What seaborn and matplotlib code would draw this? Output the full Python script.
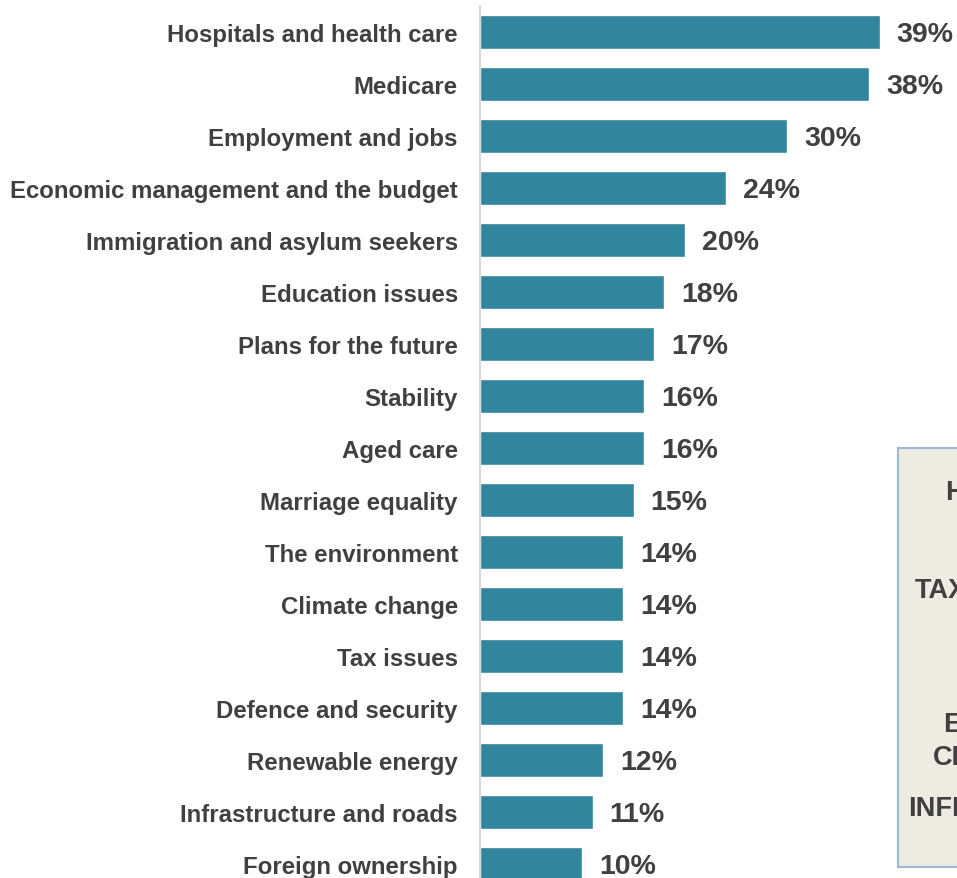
import matplotlib
matplotlib.use("Agg")
import matplotlib.pyplot as plt
from matplotlib.patches import Rectangle
import seaborn as sns
import pandas as pd

issues = [
    "Hospitals and health care", "Medicare", "Employment and jobs",
    "Economic management and the budget", "Immigration and asylum seekers",
    "Education issues", "Plans for the future", "Stability", "Aged care",
    "Marriage equality", "The environment", "Climate change", "Tax issues",
    "Defence and security", "Renewable energy", "Infrastructure and roads",
    "Foreign ownership",
]
shares = [39, 38, 30, 24, 20, 18, 17, 16, 16, 15, 14, 14, 14, 14, 12, 11, 10]

side_words = ["HEALTH", "TAXES", "ECONOMY", "CLIMATE", "INFRASTRUCTURE"]

df = pd.DataFrame({"issue": issues, "share": shares})

sns.set_theme(style="white")
plt.rcParams["font.family"] = ["Liberation Sans", "DejaVu Sans"]

TEXT = "#404040"
BAR = "#31859C"

W, H = 957, 879
fig = plt.figure(figsize=(W / 100, H / 100), dpi=100)
fig.patch.set_facecolor("white")

# axes placed in pixel terms: left spine at x=480, top at y=7, runs past the bottom edge
ax = fig.add_axes([480 / W, 1 - 891 / H, 461 / W, 884 / H])

sns.barplot(data=df, x="share", y="issue", orient="h", color=BAR,
            width=0.66, saturation=1, ax=ax)

ax.set_xlim(0, 45)
ax.set_ylim(len(issues) - 0.5, -0.5)
ax.set_xlabel("")
ax.set_ylabel("")
ax.set_xticks([])
ax.tick_params(axis="y", length=0, pad=16)
for lbl in ax.get_yticklabels():
    lbl.set_fontsize(17.25)
    lbl.set_fontweight("bold")
    lbl.set_color(TEXT)

for s in ["top", "right", "bottom"]:
    ax.spines[s].set_visible(False)
ax.spines["left"].set_color("#d9d9d9")
ax.spines["left"].set_linewidth(1.5)

# value labels, ~17px right of each bar end
for i, v in enumerate(df["share"]):
    ax.annotate(f"{v}%", xy=(v, i), xytext=(12.2, -1.8), textcoords="offset points",
                ha="left", va="center", fontsize=20.5, fontweight="bold",
                color=TEXT, annotation_clip=False)

# side panel, partly beyond the right edge
box = Rectangle((898 / W, 1 - 868 / H), 200 / W, (868 - 449) / H,
                transform=fig.transFigure, facecolor="#EDEBE2",
                edgecolor="#9DB9D9", linewidth=1.5, clip_on=False)
fig.patches.append(box)

side_pos = [(945, 493), (915, 591), (943, 725), (933, 758), (908, 809)]
for word, (px, py) in zip(side_words, side_pos):
    fig.text(px / W, 1 - py / H, word, ha="left", va="center",
             fontsize=19.5, fontweight="bold", color=TEXT)

fig.savefig("out.png", dpi=100)
